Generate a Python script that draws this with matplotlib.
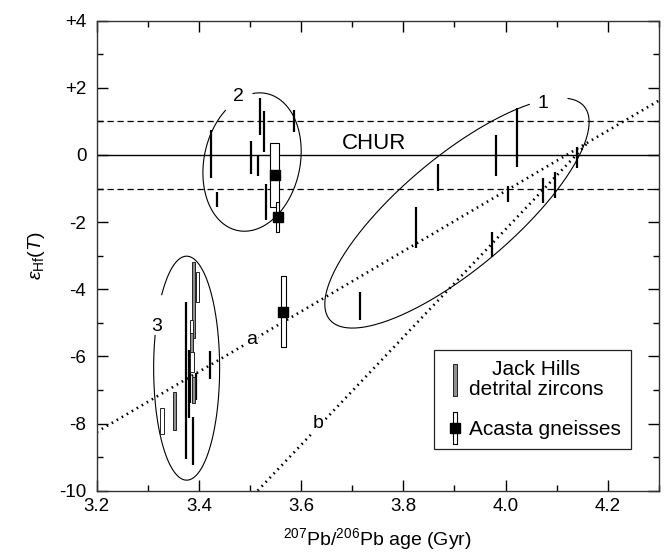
import numpy as np
import matplotlib
matplotlib.use('Agg')
import matplotlib.pyplot as plt
from matplotlib.lines import Line2D

plt.rcParams['font.family'] = ['Liberation Sans', 'DejaVu Sans']
plt.rcParams['mathtext.fontset'] = 'custom'
plt.rcParams['mathtext.rm'] = 'Liberation Sans'
plt.rcParams['mathtext.it'] = 'Liberation Sans:italic'

# Jack Hills zircons, plain black bars (age in Gyr, eps high, eps low)
jh_age = [3.715, 3.824, 3.867, 3.974, 3.981, 4.004, 4.023, 4.073, 4.097, 4.139,
          3.423, 3.436, 3.502, 3.516, 3.520, 3.527, 3.532, 3.586,
          3.375, 3.380, 3.382, 3.394, 3.388, 3.422]
jh_hi = [-4.08, -1.54, -0.27, -2.29, 0.60, -0.92, 1.39, -0.69, -0.50, 0.25,
         0.74, -1.09, 0.43, -0.03, 1.69, 1.32, -0.86, 1.34,
         -4.37, -5.81, -5.90, -6.50, -7.80, -5.84]
jh_lo = [-4.92, -2.78, -1.06, -3.03, -0.63, -1.39, -0.35, -1.42, -1.29, -0.40,
         -0.69, -1.54, -0.57, -0.63, 0.60, 0.10, -1.94, 0.69,
         -9.06, -7.84, -7.40, -7.30, -9.24, -6.67]

# Jack Hills zircons, grey boxes
jhg_age = [3.353, 3.390, 3.385, 3.389]
jhg_hi = [-7.07, -3.18, -5.18, -6.60]
jhg_lo = [-8.19, -5.46, -5.96, -7.40]

# Jack Hills zircons, open boxes (with age width)
jho_age = [3.328, 3.397, 3.385, 3.387]
jho_hi = [-7.55, -3.50, -4.92, -5.86]
jho_lo = [-8.32, -4.37, -5.31, -6.46]
jho_w = [0.008, 0.005, 0.005, 0.007]

# Acasta gneisses
ac_age = [3.548, 3.554, 3.565]
ac_eps = [-0.60, -1.84, -4.68]
ac_hi = [0.35, -1.41, -3.61]
ac_lo = [-1.54, -2.29, -5.73]
ac_w = [0.018, 0.006, 0.009]

# model lines a and b
a_x = [3.2, 4.3]
a_y = [-8.25, 1.62]
b_x = [3.515, 4.16]
b_y = [-10.0, 0.35]

fig = plt.figure(figsize=(6.67, 5.59), dpi=100)
ax = fig.add_axes([0.14498, 0.12218, 0.84273, 0.84079])
ax.set_xlim(3.2, 4.3)
ax.set_ylim(-10, 4)

# CHUR and +/-1 band
ax.axhline(0, color='k', lw=1.0, zorder=1)
ax.axhline(1, color='k', lw=0.9, ls=(0, (5, 3)), zorder=1)
ax.axhline(-1, color='k', lw=0.9, ls=(0, (5, 3)), zorder=1)

# lines a, b
ax.plot(a_x, a_y, color='k', lw=1.9, ls=(0, (0.6, 1.6)), zorder=2)
ax.plot(b_x, b_y, color='k', lw=1.9, ls=(0, (0.6, 1.6)), zorder=2)

# zircon bars
ax.vlines(jh_age, jh_lo, jh_hi, color='k', lw=1.6, zorder=3)
jhg_h = np.array(jhg_hi) - np.array(jhg_lo)
ax.bar(jhg_age, jhg_h, width=0.006, bottom=jhg_lo, color='#909090',
       edgecolor='#222222', lw=0.7, zorder=4)
jho_h = np.array(jho_hi) - np.array(jho_lo)
ax.bar(jho_age, jho_h, width=jho_w, bottom=jho_lo, color='white',
       edgecolor='#222222', lw=0.7, zorder=4)

# Acasta
ac_h = np.array(ac_hi) - np.array(ac_lo)
ax.bar(ac_age, ac_h, width=ac_w, bottom=ac_lo, color='white',
       edgecolor='k', lw=0.8, zorder=5)
ax.plot(ac_age, ac_eps, 's', color='k', ms=6.8, zorder=6)

# outlines round the three groups (semi-axes given in pixels)
pos = ax.get_position()
sx = pos.width * fig.get_figwidth() * fig.dpi / 1.1
sy = pos.height * fig.get_figheight() * fig.dpi / 14.0


def outline(cx, cy, a, b, ang, gap):
    t = np.radians(np.linspace(gap[1], gap[0] + 360, 400))
    X = a * np.cos(t)
    Y = b * np.sin(t)
    r = np.radians(ang)
    xr = X * np.cos(r) - Y * np.sin(r)
    yr = X * np.sin(r) + Y * np.cos(r)
    ax.plot(cx + xr / sx, cy + yr / sy, color='k', lw=0.8, zorder=2)


outline(3.905, -1.73, 166, 56, 40, (17, 41))
outline(3.504, -0.21, 70, 48, 78, (16, 50))
outline(3.376, -6.35, 112, 33, 90, (49, 73))

fs = 14
ax.text(4.074, 1.54, '1', fontsize=fs, ha='center', va='center')
ax.text(3.477, 1.74, '2', fontsize=fs, ha='center', va='center')
ax.text(3.317, -5.12, '3', fontsize=fs, ha='center', va='center')
ax.text(3.742, 0.35, 'CHUR', fontsize=16, ha='center', va='center')
ax.text(3.503, -5.51, 'a', fontsize=fs, ha='center', va='center', zorder=3,
        bbox=dict(fc='white', ec='none', pad=1))
ax.text(3.634, -7.99, 'b', fontsize=fs, ha='center', va='center', zorder=3,
        bbox=dict(fc='white', ec='none', pad=1))

# legend
bar_marker = [(-0.11, -1), (0.11, -1), (0.11, 1), (-0.11, 1), (-0.11, -1)]
h_jh = Line2D([], [], ls='none', marker=bar_marker, ms=23,
              mfc='#909090', mec='#222222', mew=0.7)
h_bar = Line2D([], [], ls='none', marker=bar_marker, ms=23,
               mfc='white', mec='k', mew=0.8)
h_sq = Line2D([], [], ls='none', marker='s', ms=6.8, color='k')
leg = ax.legend([h_jh, (h_bar, h_sq)],
                ['Jack Hills\ndetrital zircons', 'Acasta gneisses'],
                loc='upper left', bbox_to_anchor=(0.6006, 0.2994),
                borderaxespad=0, fontsize=15, fancybox=False,
                edgecolor='#222222', framealpha=1, handlelength=1.0,
                handletextpad=0.15, borderpad=0.5, labelspacing=1.0)
leg.get_frame().set_linewidth(0.9)
leg.get_texts()[0].set_multialignment('center')
leg.get_texts()[0].set_linespacing(1.05)

# axes, ticks
ax.set_xticks(np.arange(3.2, 4.21, 0.2))
ax.set_xticks(np.arange(3.3, 4.31, 0.2), minor=True)
ax.set_xticklabels(['3.2', '3.4', '3.6', '3.8', '4.0', '4.2'])
ax.set_yticks(np.arange(4, -10.1, -2))
ax.set_yticks(np.arange(3, -10, -2), minor=True)
ax.set_yticklabels(['+4', '+2', '0', '-2', '-4', '-6', '-8', '-10'])
ax.tick_params(which='both', direction='in', top=True, right=True,
               width=1.0, labelsize=13.5, color='k')
ax.tick_params(which='major', length=8)
ax.tick_params(which='minor', length=4.5)
ax.tick_params(axis='y', pad=7.5)
ax.tick_params(axis='x', pad=5.0)
for s in ax.spines.values():
    s.set_color('#333333')
    s.set_linewidth(1.0)

ax.set_xlabel(r'$^{207}$Pb/$^{206}$Pb age (Gyr)', fontsize=14, labelpad=8)
ax.set_ylabel(r'$\varepsilon_{\rm Hf}(T)$', fontsize=14)
ax.yaxis.set_label_coords(-0.088, 0.5)

fig.savefig('out.png', dpi=100)
